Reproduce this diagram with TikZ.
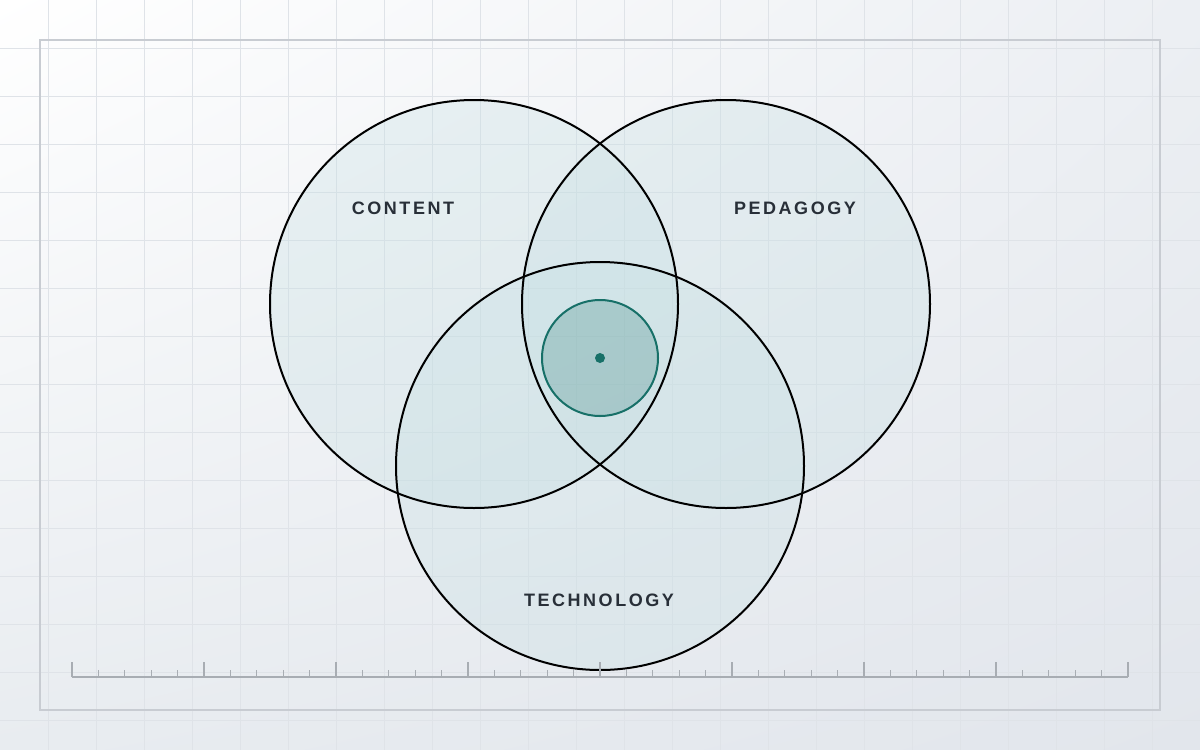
\documentclass[tikz,border=0pt]{standalone}
\usepackage{fontspec}
\usetikzlibrary{shadings}
\setmainfont{Liberation Sans}
\newfontfamily\labelfont[LetterSpace=14]{Liberation Sans}
\definecolor{gridgray}{RGB}{223,227,232}
\definecolor{framegray}{RGB}{200,204,210}
\definecolor{rulergray}{RGB}{168,173,179}
\definecolor{setfill}{RGB}{196,222,226}
\definecolor{coreteal}{RGB}{23,112,104}
\definecolor{labelink}{RGB}{40,47,56}
\definecolor{bgtr}{RGB}{236,239,243}
\definecolor{bgbl}{RGB}{232,236,240}
\definecolor{bgbr}{RGB}{226,230,236}
\tikzset{
  gridline/.style={gridgray, line width=0.8pt},
  setfillstyle/.style={fill=setfill, fill opacity=0.3},
  setcircle/.style={black, line width=2pt},
  setlabel/.style={inner sep=0pt, text=labelink, font=\labelfont\bfseries\fontsize{18}{21}\selectfont}
}
\begin{document}
\begin{tikzpicture}[x=1pt,y=-1pt]
\useasboundingbox (0,0) rectangle (1200,750);
% background and grid
\shade [upper left=white, upper right=bgtr, lower left=bgbl, lower right=bgbr]
  (0,0) rectangle (1200,750);
\foreach \x in {48,96,...,1199} \draw [gridline] (\x,0) -- (\x,750);
\foreach \y in {48,96,...,749} \draw [gridline] (0,\y) -- (1200,\y);
\draw [framegray, line width=1.5pt] (40,40) rectangle (1160,710);
% centres
\coordinate (content) at (474,304);
\coordinate (pedagogy) at (726,304);
\coordinate (technology) at (600,466);
\coordinate (core) at (600,358);
% the three sets, fills first, then outlines
\foreach \c in {content,pedagogy,technology}
  \fill [setfillstyle] (\c) circle (204);
\foreach \c in {content,pedagogy,technology}
  \draw [setcircle] (\c) circle (204);
% core
\draw [coreteal, line width=2pt, fill=coreteal, fill opacity=0.22] (core) circle (58);
\fill [coreteal] (core) circle (5);
% labels
\node [setlabel] (contentlabel) at (403,208) {CONTENT};
\node [setlabel] (pedagogylabel) at (795,208) {PEDAGOGY};
\node [setlabel] (technologylabel) at (599,600) {TECHNOLOGY};
% ruler
\draw [rulergray, line width=1.5pt] (72,677) -- (1128,677);
\foreach \i in {0,...,40} {
  \pgfmathtruncatemacro{\rest}{mod(\i,5)}
  \ifnum\rest=0
    \draw [rulergray, line width=1.5pt] ({72+26.4*\i},677) -- ({72+26.4*\i},662);
  \else
    \draw [rulergray, line width=1pt] ({72+26.4*\i},677) -- ({72+26.4*\i},670);
  \fi
}
\end{tikzpicture}
\end{document}
